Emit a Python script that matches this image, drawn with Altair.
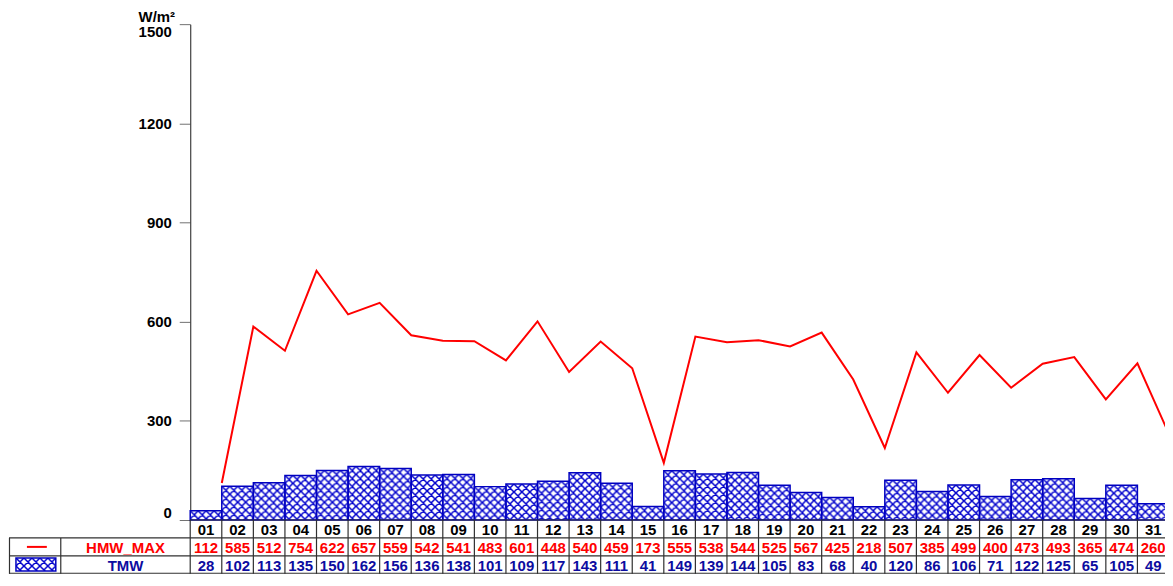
import altair as alt
import pandas as pd
from urllib.parse import quote

# ---------------- data ----------------
days = ["01", "02", "03", "04", "05", "06", "07", "08", "09", "10", "11", "12", "13", "14", "15", "16",
        "17", "18", "19", "20", "21", "22", "23", "24", "25", "26", "27", "28", "29", "30", "31"]
hmw_max = [112, 585, 512, 754, 622, 657, 559, 542, 541, 483, 601, 448, 540, 459, 173, 555,
           538, 544, 525, 567, 425, 218, 507, 385, 499, 400, 473, 493, 365, 474, 260]
tmw = [28, 102, 113, 135, 150, 162, 156, 136, 138, 101, 109, 117, 143, 111, 41, 149,
       139, 144, 105, 83, 68, 40, 120, 86, 106, 71, 122, 125, 65, 105, 49]
series_names = ["HMW_MAX", "TMW"]
y_ticks = [0, 300, 600, 900, 1200, 1500]
unit_label = "W/m²"

# ---------------- style / layout ----------------
RED = "#ff0000"
BLUE_LINE = "#0000c0"
BLUE_TEXT = "#0c0ca0"
GRID = "#303030"
FONT = "Liberation Sans"
NARROW = "'Liberation Sans Narrow', 'Arial Narrow', 'Liberation Sans'"

PAGE_X0 = 8          # svg left edge on the page
AXIS_PX = 190        # page x of the y axis
RIGHT_PX = 1173      # page x of the right end of day 31
CLIP_RIGHT = 8       # keep the svg within the page body
PLOT_H = 498
TABLE_H = 54
N = len(days)
DAY_W = (RIGHT_PX - AXIS_PX) / N
XMIN = (PAGE_X0 - AXIS_PX) / DAY_W
TOTAL_W = RIGHT_PX - PAGE_X0


def px_x(p):
    return (p - AXIS_PX) / DAY_W


hatch_svg = (
    "<svg xmlns='http://www.w3.org/2000/svg' width='100%' height='100%'>"
    "<defs><pattern id='h' width='8' height='8' patternUnits='userSpaceOnUse'>"
    "<path d='M0,0L8,8M8,0L0,8M-1,7L1,9M7,-1L9,1' stroke='#0000cc' stroke-width='1.5' fill='none'/>"
    "</pattern></defs><rect width='100%' height='100%' fill='white'/>"
    "<rect width='100%' height='100%' fill='url(#h)'/></svg>"
)
HATCH_URL = "data:image/svg+xml;charset=utf-8," + quote(hatch_svg)

# ---------------- main plot ----------------
df = pd.DataFrame({
    "day": days,
    "x0": [i for i in range(N)],
    "x1": [i + 1 for i in range(N)],
    "hmw": hmw_max,
    "tmw": tmw,
})

xscale = alt.Scale(domain=[XMIN, N], nice=False, zero=False)
yscale = alt.Scale(domain=[0, 1500], nice=False, zero=False)
y_axis = alt.Axis(
    values=y_ticks, format="d", offset=-(AXIS_PX - PAGE_X0), grid=False,
    title=unit_label, titleAngle=0, titleX=-34, titleY=-8, titleAlign="center",
    titleBaseline="middle", titleFont=FONT, titleFontSize=15, titleFontWeight="bold",
    titleColor="black",
    labelFont=FONT, labelFontSize=15, labelFontWeight="bold", labelColor="black",
    labelPadding=8, labelFlush=True, tickSize=11, tickColor="#707070",
    domainColor="#404040", domainWidth=1.2,
)

base = alt.Chart(df)
hatch = base.mark_image(url=HATCH_URL, aspect=False).encode(
    x=alt.X("x0:Q", scale=xscale, axis=None),
    x2="x1:Q",
    y=alt.Y("tmw:Q", scale=yscale, axis=y_axis, title=unit_label),
    y2=alt.datum(0),
)
outline = base.mark_rect(filled=False, stroke=BLUE_LINE, strokeWidth=1.5).encode(
    x=alt.X("x0:Q", scale=xscale, axis=None),
    x2="x1:Q",
    y=alt.Y("tmw:Q", scale=yscale, axis=y_axis, title=unit_label),
    y2=alt.datum(0),
)
line = base.mark_line(color=RED, strokeWidth=2).encode(
    x=alt.X("x1:Q", scale=xscale, axis=None),
    y=alt.Y("hmw:Q", scale=yscale, axis=y_axis, title=unit_label),
)
top = alt.layer(hatch, outline, line).properties(width=TOTAL_W, height=PLOT_H)

# ---------------- data table ----------------
rows = []
for i, d in enumerate(days):
    rows.append({"x": i + 0.5, "r": 0.5, "t": d, "c": "black", "f": "num"})
    rows.append({"x": i + 0.5, "r": 1.5, "t": str(hmw_max[i]), "c": RED, "f": "num"})
    rows.append({"x": i + 0.5, "r": 2.5, "t": str(tmw[i]), "c": BLUE_TEXT, "f": "num"})
name_x = (px_x(60) + 0) / 2
rows.append({"x": name_x, "r": 1.5, "t": series_names[0], "c": RED, "f": "name"})
rows.append({"x": name_x, "r": 2.5, "t": series_names[1], "c": BLUE_TEXT, "f": "name"})
tdf = pd.DataFrame(rows)

txscale = alt.Scale(domain=[XMIN, N], nice=False, zero=False)
tyscale = alt.Scale(domain=[0, 3], nice=False, zero=False, reverse=True)

rules = []
for i in range(N + 1):
    rules.append({"x": i, "x2": i, "y": 0, "y2": 3})
for p in (PAGE_X0 + 0.5, 60):
    rules.append({"x": px_x(p), "x2": px_x(p), "y": 1, "y2": 3})
rules.append({"x": 0, "x2": N, "y": 0, "y2": 0})
for r in (1, 2):
    rules.append({"x": XMIN, "x2": N, "y": r, "y2": r})
rules.append({"x": XMIN, "x2": N, "y": 3 - 0.03, "y2": 3 - 0.03})
rdf = pd.DataFrame(rules)

grid = alt.Chart(rdf).mark_rule(color=GRID, strokeWidth=1.2).encode(
    x=alt.X("x:Q", scale=txscale, axis=None), x2="x2:Q",
    y=alt.Y("y:Q", scale=tyscale, axis=None), y2="y2:Q",
)
num_text = alt.Chart(tdf).transform_filter("datum.f == 'num'").mark_text(
    font=NARROW, fontSize=15, fontWeight="bold", baseline="middle", align="center", dy=1
).encode(
    x=alt.X("x:Q", scale=txscale, axis=None),
    y=alt.Y("r:Q", scale=tyscale, axis=None),
    text="t:N",
    color=alt.Color("c:N", scale=None),
)
name_text = alt.Chart(tdf).transform_filter("datum.f == 'name'").mark_text(
    font=FONT, fontSize=15, fontWeight="bold", baseline="middle", align="center", dy=1
).encode(
    x=alt.X("x:Q", scale=txscale, axis=None),
    y=alt.Y("r:Q", scale=tyscale, axis=None),
    text="t:N",
    color=alt.Color("c:N", scale=None),
)

leg = pd.DataFrame({
    "x": [px_x(26)], "x2": [px_x(46)], "y": [1.5],
    "hx": [px_x(15)], "hx2": [px_x(55)], "hy": [2.12], "hy2": [2.85],
})
leg_line = alt.Chart(leg).mark_rule(color=RED, strokeWidth=2).encode(
    x=alt.X("x:Q", scale=txscale, axis=None), x2="x2:Q",
    y=alt.Y("y:Q", scale=tyscale, axis=None),
)
leg_hatch = alt.Chart(leg).mark_image(url=HATCH_URL, aspect=False).encode(
    x=alt.X("hx:Q", scale=txscale, axis=None), x2="hx2:Q",
    y=alt.Y("hy:Q", scale=tyscale, axis=None), y2="hy2:Q",
)
leg_box = alt.Chart(leg).mark_rect(filled=False, stroke=BLUE_LINE, strokeWidth=1.5).encode(
    x=alt.X("hx:Q", scale=txscale, axis=None), x2="hx2:Q",
    y=alt.Y("hy:Q", scale=tyscale, axis=None), y2="hy2:Q",
)

table = alt.layer(grid, leg_hatch, leg_box, leg_line, num_text, name_text).properties(
    width=TOTAL_W, height=TABLE_H
)

chart = alt.vconcat(top, table, spacing=0, bounds="flush").properties(
    padding={"left": 0, "top": 0, "right": -CLIP_RIGHT, "bottom": 0},
).configure(background="white").configure_view(strokeWidth=0, stroke="transparent")

chart.save("out.html", embed_options={"renderer": "svg", "actions": False})
